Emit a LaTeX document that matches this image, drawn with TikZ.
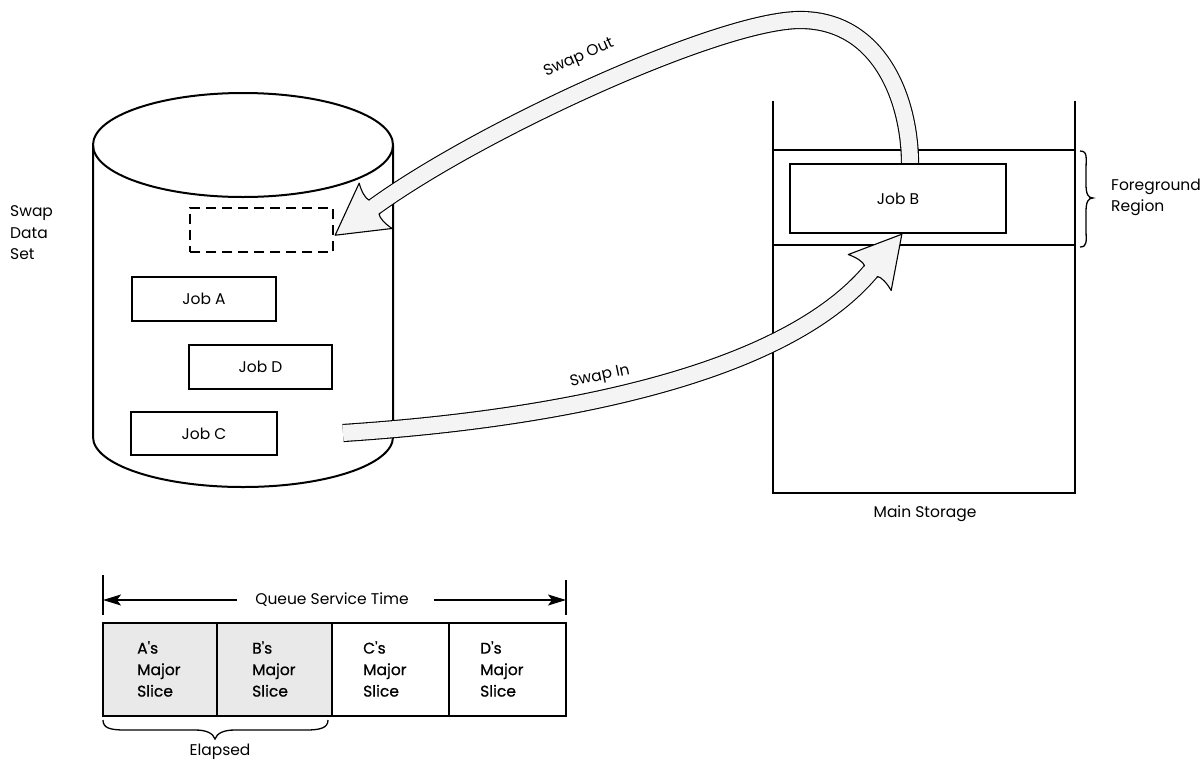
\documentclass[tikz,border=0pt]{standalone}
\usepackage{fontspec}
\setmainfont{Poppins}
\newfontfamily\slicefont[FakeBold=0.6]{Poppins}
\usetikzlibrary{arrows.meta}
\newcommand{\widehead}[2]{%
  \begin{scope}[shift={(#1)}, rotate=#2]
    \filldraw[arrhead] (-1.5,8.55) -- (0,8.55) .. controls (2,12) and (1,20) .. (-2,28)
      -- (48,0) -- (-2,-28) .. controls (1,-20) and (2,-12) .. (0,-8.55) -- (-1.5,-8.55);
  \end{scope}}
\begin{document}
\begin{tikzpicture}[x=1pt,y=-1pt,
  every node/.style={font=\fontsize{15.5}{21.5}\selectfont, inner sep=0pt},
  jobbox/.style={draw, line width=1.3pt, minimum height=44pt},
  dashbox/.style={draw, line width=1.3pt, dash pattern=on 10pt off 6pt, minimum height=44pt},
  heavy/.style={line width=2pt},
  medium/.style={line width=1.5pt},
  arrbody/.style={draw=black, line width=1.1pt, double=gray!9, double distance=16pt},
  arrhead/.style={fill=gray!9, draw=black, line width=1.1pt, line join=round},
  qarrow/.style={line width=1.3pt, -{Stealth[length=18pt, width=11pt, inset=4pt]}},
  lbl/.style={align=left},
  slice/.style={align=left, anchor=west, font=\fontsize{15.5}{21.5}\slicefont}
]
\useasboundingbox (0,0) rectangle (1204,763);

% ---------- Swap data set (cylinder) ----------
\draw[heavy] (243,145) ellipse [x radius=150pt, y radius=52pt];
\draw[heavy] (93,145) -- (93,437)
  .. controls (93,464.6) and (160.2,487) .. (243,487)
  .. controls (325.8,487) and (393,464.6) .. (393,437) -- (393,145);
\node[lbl, anchor=west] (sds) at (10,233) {Swap\\Data\\Set};

\node[dashbox, minimum width=143pt] (empty) at (261.5,230) {};
\node[jobbox, minimum width=144pt] (jobA) at (204,299) {Job A};
\node[jobbox, minimum width=143pt] (jobD) at (260.5,367) {Job D};
\node[jobbox, minimum width=146pt, minimum height=43pt] (jobC) at (204,433.5) {Job C};

% ---------- Main storage ----------
\draw[heavy] (773,101) -- (773,493) -- (1075,493) -- (1075,101);
\draw[medium] (773,150) -- (1075,150);
\draw[medium] (773,245) -- (1075,245);
\node (ms) at (925,514) {Main Storage};
\draw[line width=1.3pt] (1080,151) .. controls (1088,151) and (1086,158) .. (1086,170)
  -- (1086,184) .. controls (1086,194) and (1088,198) .. (1093,198)
  .. controls (1088,198) and (1086,202) .. (1086,212)
  -- (1086,230) .. controls (1086,240) and (1088,247) .. (1080,247);
\node[lbl, anchor=west] (fg) at (1111,197.5) {Foreground\\Region};

% ---------- Swap arrows ----------
\coordinate (soS) at (910,164);
\coordinate (soB) at (374,207);
\draw[arrbody] (soS) .. controls (910,100) and (880,20) .. (800,20)
  .. controls (720,20) and (480,130) .. (soB);
\widehead{soB}{216}
\node[rotate=24] (soL) at (579,58) {Swap Out};

\coordinate (siS) at (343,433);
\coordinate (siB) at (871,271);
\draw[arrbody] (siS) .. controls (480,424) and (768,394) .. (siB);
\widehead{siB}{50}
\node[rotate=12] (siL) at (600,377) {Swap In};

\node[draw, line width=1.3pt, minimum width=216pt, minimum height=69pt] (jobB) at (898,198.5) {Job B};

% ---------- Queue service time bar ----------
\fill[gray!17] (103,623) rectangle (332,716);
\draw[heavy] (103,623) rectangle (566,716);
\draw[medium] (217,623) -- (217,716);
\draw[medium] (332,623) -- (332,716);
\draw[medium] (449,623) -- (449,716);
\node[slice] (sa) at (137,669) {A's\\Major\\Slice};
\node[slice] (sb) at (252,669) {B's\\Major\\Slice};
\node[slice] (sc) at (363,669) {C's\\Major\\Slice};
\node[slice] (sd) at (480,669) {D's\\Major\\Slice};

\node (qst) at (332,600) {Queue Service Time};
\coordinate (qL) at (103,600);
\coordinate (qR) at (566,600);
\draw[qarrow, shorten <=18pt] (qst.west) -- (qL);
\draw[qarrow, shorten <=25pt] (qst.east) -- (qR);
\draw[line width=1.3pt] (103,575) -- (103,615);
\draw[line width=1.3pt] (566,580) -- (566,615);

\draw[line width=1.3pt] (103,720) .. controls (103,728) and (110,730) .. (125,730)
  -- (195,730) .. controls (206,730) and (213,733) .. (215,739)
  .. controls (217,733) and (224,730) .. (235,730)
  -- (306,730) .. controls (320,730) and (328,728) .. (328,720);
\node (el) at (220,752) {Elapsed};
\end{tikzpicture}
\end{document}
